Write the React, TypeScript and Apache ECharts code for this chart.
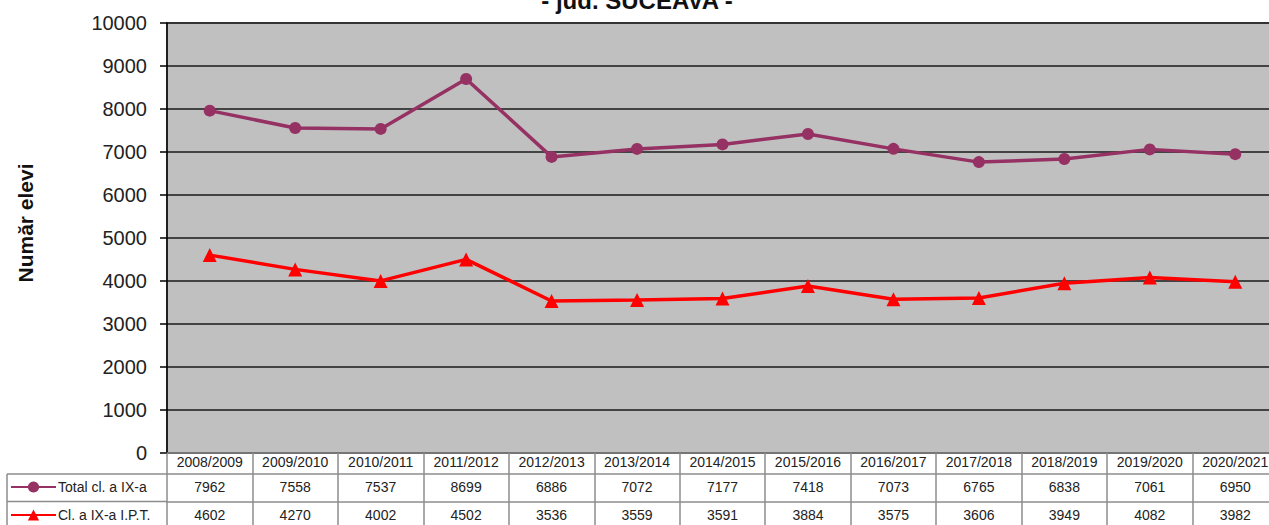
import React, { useEffect, useRef } from "react";
import * as echarts from "echarts";

const categories = [
  "2008/2009", "2009/2010", "2010/2011", "2011/2012", "2012/2013", "2013/2014", "2014/2015",
  "2015/2016", "2016/2017", "2017/2018", "2018/2019", "2019/2020", "2020/2021",
];
const totalIX = [7962, 7558, 7537, 8699, 6886, 7072, 7177, 7418, 7073, 6765, 6838, 7061, 6950];
const iptIX = [4602, 4270, 4002, 4502, 3536, 3559, 3591, 3884, 3575, 3606, 3949, 4082, 3982];
const seriesNames = ["Total cl. a IX-a", "Cl. a IX-a I.P.T."];
const yMin = 0;
const yMax = 10000;
const yInterval = 1000;
const titleText = "- jud. SUCEAVA -";
const yAxisName = "Număr elevi";

const FONT = '"Liberation Sans", Arial, sans-serif';
const TABLE_GRAY = "#8c8c8c";

export default function App() {
  const ref = useRef<HTMLDivElement>(null);
  useEffect(() => {
    if (!ref.current) return;
    const chart = echarts.init(ref.current, undefined, { renderer: "svg" });
    const rowAxis = (offset: number, values: number[] | null, margin: number) => ({
      type: "category",
      gridIndex: 0,
      position: "bottom",
      offset,
      data: categories,
      boundaryGap: true,
      axisLine: { show: true, lineStyle: { color: TABLE_GRAY, width: 1.5 } },
      axisTick: values
        ? { show: false }
        : { show: true, interval: 0, length: 80, lineStyle: { color: TABLE_GRAY, width: 1.5 } },
      axisLabel: {
        interval: 0,
        margin,
        fontSize: 14,
        fontFamily: FONT,
        color: "#222",
        formatter: values ? (_v: string, i: number) => String(values[i]) : undefined,
      },
      splitLine: { show: false },
    });
    chart.setOption({
      animation: false,
      textStyle: { fontFamily: FONT },
      grid: {
        left: 167,
        top: 23,
        width: 1111,
        height: 430,
        show: true,
        backgroundColor: "#C0C0C0",
        borderColor: "#7f7f7f",
        borderWidth: 2,
        containLabel: false,
        outerBoundsMode: "none",
      },
      legend: {
        orient: "vertical",
        left: 10,
        top: 480,
        itemWidth: 45,
        itemHeight: 14,
        itemGap: 14,
        padding: 0,
        textStyle: { fontSize: 14, fontFamily: FONT, color: "#222", padding: [0, 0, 0, -3] },
        data: seriesNames,
      },
      xAxis: [rowAxis(0, null, 2), rowAxis(21, totalIX, 6), rowAxis(48.5, iptIX, 6)],
      yAxis: {
        type: "value",
        min: yMin,
        max: yMax,
        interval: yInterval,
        axisLine: { show: true, lineStyle: { color: "#000", width: 1.5 } },
        axisTick: { show: true, length: 7, lineStyle: { color: "#000", width: 1.5 } },
        axisLabel: {
          fontSize: 20,
          fontFamily: FONT,
          color: "#222",
          margin: 20,
          formatter: (v: number) => String(v),
        },
        splitLine: { show: true, lineStyle: { color: "#1a1a1a", width: 1.5 } },
      },
      series: [
        {
          name: seriesNames[0],
          type: "line",
          xAxisIndex: 0,
          data: totalIX,
          symbol: "circle",
          symbolSize: 12,
          lineStyle: { color: "#953163", width: 3.5 },
          itemStyle: { color: "#953163" },
        },
        {
          name: seriesNames[1],
          type: "line",
          xAxisIndex: 0,
          data: iptIX,
          symbol: "triangle",
          symbolSize: 14,
          lineStyle: { color: "#ff0000", width: 3.5 },
          itemStyle: { color: "#ff0000" },
        },
      ],
      graphic: [
        {
          type: "text",
          x: 637,
          y: -12,
          style: {
            text: titleText,
            font: `bold 24px ${FONT}`,
            textAlign: "center",
            textVerticalAlign: "top",
            fill: "#111",
          },
        },
        {
          type: "text",
          x: 25,
          y: 223,
          rotation: Math.PI / 2,
          style: {
            text: yAxisName,
            font: `bold 21px ${FONT}`,
            textAlign: "center",
            textVerticalAlign: "middle",
            fill: "#111",
          },
        },
        { type: "line", shape: { x1: 7, y1: 474, x2: 167, y2: 474 }, style: { stroke: TABLE_GRAY, lineWidth: 1.5 } },
        { type: "line", shape: { x1: 7, y1: 501.5, x2: 167, y2: 501.5 }, style: { stroke: TABLE_GRAY, lineWidth: 1.5 } },
        { type: "line", shape: { x1: 7, y1: 474, x2: 7, y2: 530 }, style: { stroke: TABLE_GRAY, lineWidth: 1.5 } },
      ],
    });
    return () => chart.dispose();
  }, []);
  return (
    <div
      ref={ref}
      style={{ position: "absolute", left: 0, top: 0, width: 1269, height: 525, background: "#fff" }}
    />
  );
}
